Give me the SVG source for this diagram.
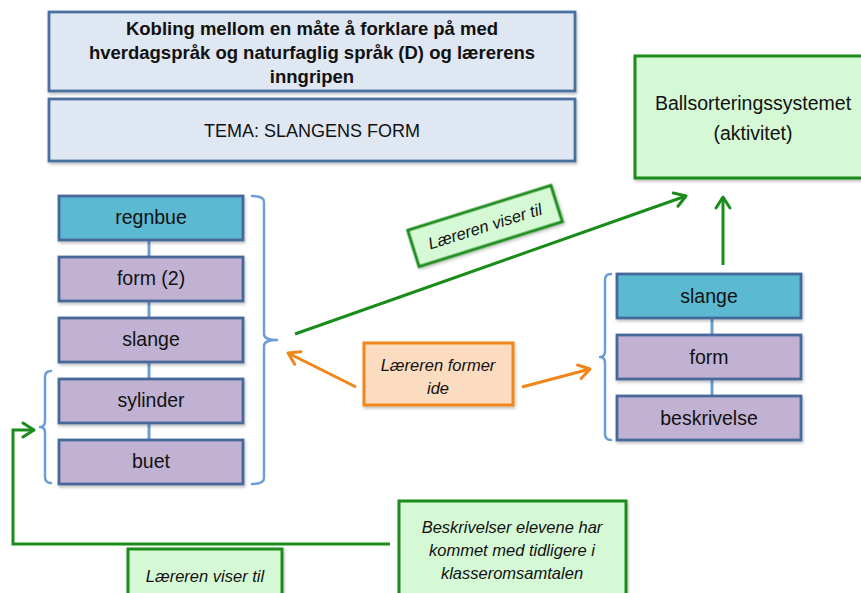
<svg xmlns="http://www.w3.org/2000/svg" width="861" height="593" viewBox="0 0 861 593">
  <defs>
    <filter id="shadow" x="-10%" y="-10%" width="130%" height="140%">
      <feDropShadow dx="1" dy="2" stdDeviation="1.5" flood-color="#000" flood-opacity="0.25"/>
    </filter>
    <marker id="arrGreen" viewBox="-13 -9 16 18" refX="0" refY="0" markerWidth="16" markerHeight="18" markerUnits="userSpaceOnUse" orient="auto">
      <path d="M-11,-7 L0,0 L-11,7" fill="none" stroke="#1a8c1a" stroke-width="3" stroke-linecap="round" stroke-linejoin="round"/>
    </marker>
    <marker id="arrOrange" viewBox="-13 -9 16 18" refX="0" refY="0" markerWidth="16" markerHeight="18" markerUnits="userSpaceOnUse" orient="auto">
      <path d="M-11,-7 L0,0 L-11,7" fill="none" stroke="#f0861a" stroke-width="3" stroke-linecap="round" stroke-linejoin="round"/>
    </marker>
  </defs>
  <style>
    text { font-family: "Liberation Sans", Arial, sans-serif; fill: #111; text-anchor: middle; }
    .header { fill: #dfe7f2; stroke: #4a70a0; stroke-width: 2.8; filter: url(#shadow); }
    .title { font-size: 18.5px; font-weight: bold; }
    .lbl { font-size: 19.5px; }
    .caps { font-size: 18px; }
    .it { font-size: 16.5px; font-style: italic; }
    .cyan { fill: #5bb9d2; stroke: #46689a; stroke-width: 2.8; filter: url(#shadow); }
    .purple { fill: #c1b2d3; stroke: #46689a; stroke-width: 2.8; filter: url(#shadow); }
    .gbox { fill: #d5f8d5; stroke: #1a8c1a; stroke-width: 3; filter: url(#shadow); }
    .obox { fill: #fcdcc0; stroke: #f0861a; stroke-width: 3; filter: url(#shadow); }
    .link { stroke: #6b9ed4; stroke-width: 3; fill: none; }
    .brace { stroke: #6b9ed4; stroke-width: 2.5; fill: none; stroke-linecap: round; stroke-linejoin: round; }
    .garrow { stroke: #1a8c1a; stroke-width: 3; fill: none; marker-end: url(#arrGreen); }
    .oarrow { stroke: #f0861a; stroke-width: 3; fill: none; marker-end: url(#arrOrange); }
  </style>

  <rect width="861" height="593" fill="#ffffff"/>

  <!-- Header -->
  <g id="title">
    <rect class="header" x="49" y="12" width="526" height="79"/>
    <text class="title" x="312" y="35">Kobling mellom en måte å forklare på med</text>
    <text class="title" x="312" y="59">hverdagspråk og naturfaglig språk (D) og lærerens</text>
    <text class="title" x="312" y="83">inngripen</text>
  </g>
  <g id="tema">
    <rect class="header" x="49" y="99" width="526" height="62"/>
    <text class="caps" x="312" y="137">TEMA: SLANGENS FORM</text>
  </g>

  <!-- Connectors -->
  <g id="connectors">
    <!-- stack links, left -->
    <line class="link" x1="149" y1="240" x2="149" y2="257"/>
    <line class="link" x1="149" y1="301" x2="149" y2="318"/>
    <line class="link" x1="149" y1="362" x2="149" y2="379"/>
    <line class="link" x1="149" y1="423" x2="149" y2="440"/>
    <!-- stack links, right -->
    <line class="link" x1="712" y1="318" x2="712" y2="335"/>
    <line class="link" x1="712" y1="379" x2="712" y2="396"/>

    <!-- brackets -->
    <path class="brace" d="M252,196 Q264,196 264,202 V334 Q264,340 277,340 Q264,340 264,346 V478 Q264,484 252,484"/>
    <path class="brace" d="M51,371 Q45,371 45,377 V421 Q45,427 40,427 Q45,427 45,433 V477 Q45,483 51,483"/>
    <path class="brace" d="M611,274 Q605,274 605,280 V351 Q605,357 600,357 Q605,357 605,363 V434 Q605,440 611,440"/>

    <!-- arrows -->
    <path class="garrow" d="M295,334 L686,196"/>
    <path class="garrow" d="M723,265 L723,197"/>
    <path class="garrow" d="M390,544 H13 V430 H34"/>
    <path class="oarrow" d="M356,387 L288,353"/>
    <path class="oarrow" d="M522,387 L590,369"/>
  </g>

  <!-- Left stack -->
  <g id="regnbue">
    <rect class="cyan" x="59" y="196" width="184" height="44"/>
    <text class="lbl" x="151" y="224">regnbue</text>
  </g>
  <g id="form2">
    <rect class="purple" x="59" y="257" width="184" height="44"/>
    <text class="lbl" x="151" y="285">form (2)</text>
  </g>
  <g id="slange-left">
    <rect class="purple" x="59" y="318" width="184" height="44"/>
    <text class="lbl" x="151" y="346">slange</text>
  </g>
  <g id="sylinder">
    <rect class="purple" x="59" y="379" width="184" height="44"/>
    <text class="lbl" x="151" y="407">sylinder</text>
  </g>
  <g id="buet">
    <rect class="purple" x="59" y="440" width="184" height="44"/>
    <text class="lbl" x="151" y="468">buet</text>
  </g>

  <!-- Right stack -->
  <g id="slange-right">
    <rect class="cyan" x="617" y="274" width="184" height="44"/>
    <text class="lbl" x="709" y="303">slange</text>
  </g>
  <g id="form">
    <rect class="purple" x="617" y="335" width="184" height="44"/>
    <text class="lbl" x="709" y="364">form</text>
  </g>
  <g id="beskrivelse">
    <rect class="purple" x="617" y="396" width="184" height="44"/>
    <text class="lbl" x="709" y="425">beskrivelse</text>
  </g>

  <!-- Activity -->
  <g id="ballsortering">
    <rect class="gbox" x="635" y="56" width="230" height="122"/>
    <text class="lbl" x="753" y="110">Ballsorteringssystemet</text>
    <text class="lbl" x="753" y="140">(aktivitet)</text>
  </g>

  <!-- Teacher actions -->
  <g id="former-ide">
    <rect class="obox" x="364" y="343" width="149" height="62"/>
    <text class="it" x="438" y="371">Læreren former</text>
    <text class="it" x="438" y="394">ide</text>
  </g>
  <g id="viser-til-top" transform="translate(485,226) rotate(-17.4)">
    <rect class="gbox" x="-75" y="-19" width="150" height="38"/>
    <text class="it" x="0" y="6">Læreren viser til</text>
  </g>
  <g id="viser-til-bottom">
    <rect class="gbox" x="128" y="549" width="154" height="50"/>
    <text class="it" x="205" y="582">Læreren viser til</text>
  </g>
  <g id="beskrivelser">
    <rect class="gbox" x="399" y="501" width="227" height="100"/>
    <text class="it" x="512" y="533">Beskrivelser elevene har</text>
    <text class="it" x="512" y="556">kommet med tidligere i</text>
    <text class="it" x="512" y="579">klasseromsamtalen</text>
  </g>
</svg>
